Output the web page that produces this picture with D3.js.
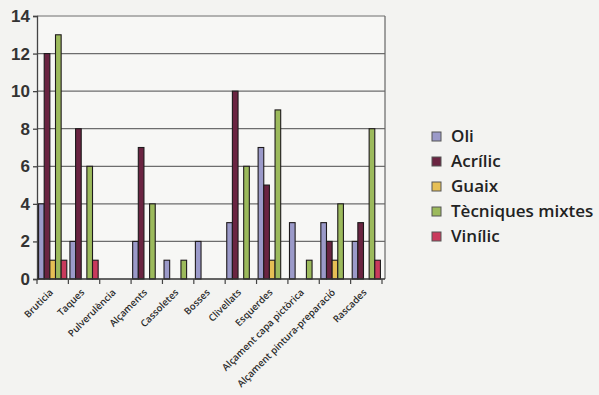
<!DOCTYPE html>
<html><head><meta charset="utf-8">
<script src="https://cdn.jsdelivr.net/npm/d3@7"></script>
<style>html,body{margin:0;padding:0;background:#f3f3f1;}svg{display:block;}</style>
</head><body>
<svg id="c" width="599" height="395"></svg>
<script>
const categories = ["Bruticia","Taques","Pulverulència","Alçaments","Cassoletes","Bosses","Clivellats","Esquerdes","Alçament capa pictòrica","Alçament pintura-preparació","Rascades"];
const seriesNames = ["Oli","Acrílic","Guaix","Tècniques mixtes","Vinílic"];
const oli     = [4, 2, 0, 2, 1, 2, 3, 7, 3, 3, 2];
const acrilic = [12, 8, 0, 7, 0, 0, 10, 5, 0, 2, 3];
const guaix   = [1, 0, 0, 0, 0, 0, 0, 1, 0, 1, 0];
const mixtes  = [13, 6, 0, 4, 1, 0, 6, 9, 1, 4, 8];
const vinilic = [1, 1, 0, 0, 0, 0, 0, 0, 0, 0, 1];
const yTicks = [0, 2, 4, 6, 8, 10, 12, 14];
const colors = ["#9b9ac9", "#6a2441", "#e6bf55", "#9cba5c", "#c93a5c"];

const series = [oli, acrilic, guaix, mixtes, vinilic];
const svg = d3.select("#c");
const m = {l: 37, t: 16, r: 385, b: 279};
const x = d3.scaleBand().domain(categories).range([m.l, m.r - 3]).paddingInner(0.1).paddingOuter(0.05);
const x0 = d3.scaleBand().domain(categories).range([m.l, m.r - 3]);
const xs = d3.scaleBand().domain(seriesNames).range([0, x.bandwidth()]);
const y = d3.scaleLinear().domain([0, 14]).range([m.b, m.t]);

const g = svg.append("g");
g.append("rect").attr("x", m.l).attr("y", y(14) - 1).attr("width", m.r - m.l).attr("height", m.b - y(14) + 1).attr("fill", "#f7f7f5");
g.selectAll(".grid").data(yTicks.filter(d => d > 0)).join("line")
  .attr("x1", m.l).attr("x2", m.r).attr("y1", d => y(d)).attr("y2", d => y(d))
  .attr("stroke", "#6d6d6d").attr("stroke-width", 1.2);
g.append("line").attr("x1", m.r).attr("x2", m.r).attr("y1", y(14)).attr("y2", m.b).attr("stroke", "#666").attr("stroke-width", 1.2);

categories.forEach((c, i) => {
  series.forEach((s, j) => {
    g.append("rect")
      .attr("x", x(c) + xs(seriesNames[j]))
      .attr("y", y(s[i]))
      .attr("width", xs.bandwidth())
      .attr("height", m.b - y(s[i]))
      .attr("fill", colors[j])
      .attr("stroke", "#1e1a1c").attr("stroke-width", 1.1);
  });
});

const yAxis = d3.axisLeft(y).tickValues(yTicks).tickSize(4).tickPadding(3);
const ya = svg.append("g").attr("transform", `translate(${m.l},0)`).call(yAxis);
ya.select(".domain").attr("stroke", "#444").attr("stroke-width", 1.3);
ya.selectAll(".tick line").attr("stroke", "#444").attr("stroke-width", 1.3);
ya.selectAll("text").attr("font-family", "Liberation Sans, Arial, sans-serif").attr("font-size", 17).attr("font-weight", "bold").attr("fill", "#333");

const xb = svg.append("g").attr("transform", `translate(0,${m.b})`);
xb.append("line").attr("x1", m.l).attr("x2", m.r).attr("y1", 0).attr("y2", 0).attr("stroke", "#333").attr("stroke-width", 1.5);
const bounds = categories.map(c => x0(c)).concat([x0(categories[categories.length-1]) + x0.bandwidth()]);
xb.selectAll(".xt").data(bounds).join("line")
  .attr("x1", d => d).attr("x2", d => d).attr("y1", 0).attr("y2", 5)
  .attr("stroke", "#444").attr("stroke-width", 1.2);
xb.selectAll(".xl").data(categories).join("text")
  .attr("transform", d => `translate(${x0(d) + x0.bandwidth() / 2 + 1},${14}) rotate(-45)`)
  .attr("text-anchor", "end")
  .attr("font-family", "Open Sans, sans-serif").attr("font-size", 9.6).attr("font-weight", 600).attr("fill", "#2a2a2a")
  .text(d => d);

const lg = svg.append("g").attr("transform", "translate(432,136.5)");
seriesNames.forEach((n, j) => {
  const r = lg.append("g").attr("transform", `translate(0,${j * 25})`);
  r.append("rect").attr("x", 0).attr("y", -4.5).attr("width", 9).attr("height", 9)
    .attr("fill", colors[j]).attr("stroke", "#555").attr("stroke-width", 1);
  r.append("text").attr("x", 19).attr("y", 0).attr("dy", "0.35em")
    .attr("font-family", "Open Sans, sans-serif").attr("font-size", 17).attr("font-weight", 600).attr("fill", "#222").text(n);
});
</script>
</body></html>
